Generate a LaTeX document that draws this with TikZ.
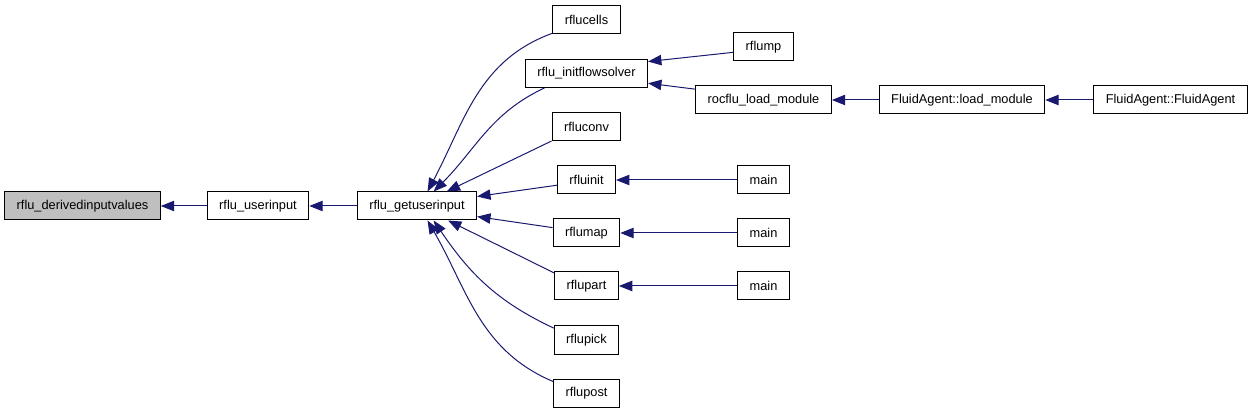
\documentclass[tikz,border=0pt]{standalone}
\usepackage{fontspec}
\setmainfont{Liberation Sans}
\usepackage{tikz}
\usetikzlibrary{arrows.meta}
\definecolor{edge}{HTML}{191970}
\definecolor{hilite}{HTML}{BFBFBF}

\begin{document}
\begin{tikzpicture}[
  x=0.75pt,y=-0.75pt,
  every node/.style={font=\fontsize{9.6}{11}\selectfont},
  box/.style={draw=black,line width=0.75pt,fill=white,
              inner xsep=9pt,inner ysep=0pt,minimum height=21pt},
  arr/.style={-{Triangle[length=10pt,width=7.8pt]},line width=0.75pt,edge}
]
\useasboundingbox (0,0) rectangle (1253,413);
\node[box,fill=hilite] (dv) at (82.5,206) {rflu\_derivedinputvalues};
\node[box] (ui) at (258,206) {rflu\_userinput};
\node[box] (gui) at (417,206) {rflu\_getuserinput};
\node[box] (cells) at (586.5,19.5) {rflucells};
\node[box] (ifs) at (586.5,73.5) {rflu\_initflowsolver};
\node[box] (conv) at (586.5,126.5) {rfluconv};
\node[box] (init) at (586.5,180) {rfluinit};
\node[box] (map) at (586.5,233) {rflumap};
\node[box] (part) at (586.5,286) {rflupart};
\node[box] (pick) at (586.5,340) {rflupick};
\node[box] (post) at (586.5,393) {rflupost};
\node[box] (mp) at (763.5,47) {rflump};
\node[box] (lm) at (763.5,100) {rocflu\_load\_module};
\node[box] (maina) at (763.5,180) {main};
\node[box] (mainb) at (763.5,233) {main};
\node[box] (mainc) at (763.5,286) {main};
\node[box] (fal) at (962,100) {FluidAgent::load\_module};
\node[box] (faa) at (1170.5,100) {FluidAgent::FluidAgent};

\draw[arr] (ui) -- (dv);
\draw[arr] (gui) -- (ui);
\draw[arr] (cells.202) to[out=200,in=62] (gui.54);
\draw[arr] (ifs.199) to[out=205,in=45] (gui.41);
\draw[arr] (conv.south west) -- (gui.26);
\draw[arr] (init.190) -- (gui.9);
\draw[arr] (map.171) -- (gui.-10);
\draw[arr] (part.158) -- (gui.-25);
\draw[arr] (pick.160) to[out=155,in=-56] (gui.-41);
\draw[arr] (post.161) to[out=157,in=-60] (gui.-54);
\draw[arr] (mp.190) -- (ifs.11);
\draw[arr] (lm.171) -- (ifs.-9);
\draw[arr] (fal) -- (lm);
\draw[arr] (faa) -- (fal);
\draw[arr] (maina) -- (init);
\draw[arr] (mainb) -- (map);
\draw[arr] (mainc) -- (part);
\end{tikzpicture}
\end{document}
